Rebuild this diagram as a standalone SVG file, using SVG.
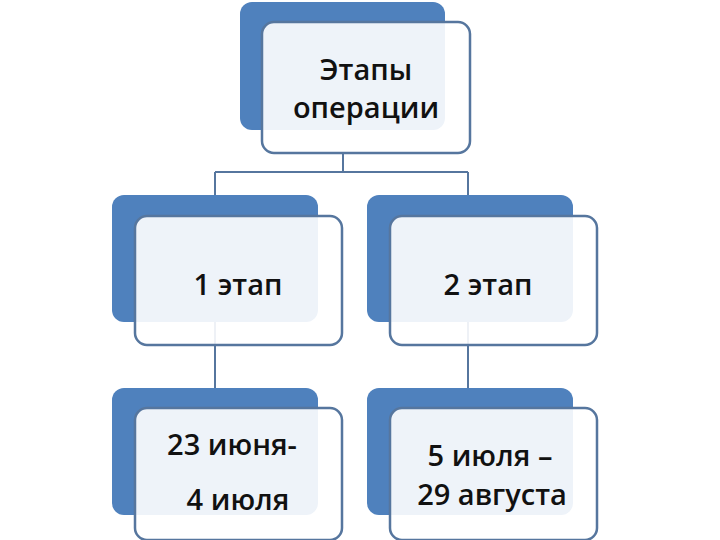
<svg xmlns="http://www.w3.org/2000/svg" width="720" height="540" viewBox="0 0 720 540">
<style>
.b{fill:#4F81BD}
.f{fill:#FFFFFF;fill-opacity:0.9;stroke:#56769E;stroke-width:2.5}
.t{font-family:"Open Sans","Liberation Sans",sans-serif;font-size:29px;font-weight:600;fill:#111;text-anchor:middle}
.c{fill:none;stroke:#56769E;stroke-width:2}
</style>
<rect width="720" height="540" fill="#fff"/>
<g id="connectors">
<path class="c" d="M343 153V172M215 172H468M215 172V195M468 172V195M215 322V388M468 322V388"/>
</g>
<g id="top"><rect class="b" x="240" y="2" width="205" height="128" rx="12"/><rect class="f" x="262" y="22" width="208" height="131" rx="12"/>
<text class="t" x="366" y="80">Этапы</text><text class="t" x="366" y="118">операции</text></g>
<g id="n1"><rect class="b" x="112" y="195" width="206" height="127" rx="12"/><rect class="f" x="135" y="216" width="207" height="129" rx="12"/>
<text class="t" x="238" y="295">1 этап</text></g>
<g id="n2"><rect class="b" x="367" y="195" width="206" height="127" rx="12"/><rect class="f" x="390" y="216" width="207" height="129" rx="12"/>
<text class="t" x="488" y="295">2 этап</text></g>
<g id="n3"><rect class="b" x="112" y="388" width="206" height="127" rx="12"/><rect class="f" x="135" y="408" width="207" height="132" rx="12"/>
<text class="t" x="232" y="455">23 июня-</text><text class="t" x="238" y="510">4 июля</text></g>
<g id="n4"><rect class="b" x="367" y="388" width="206" height="127" rx="12"/><rect class="f" x="390" y="408" width="207" height="132" rx="12"/>
<text class="t" x="490" y="466">5 июля –</text><text class="t" x="492" y="505">29 августа</text></g>
</svg>
